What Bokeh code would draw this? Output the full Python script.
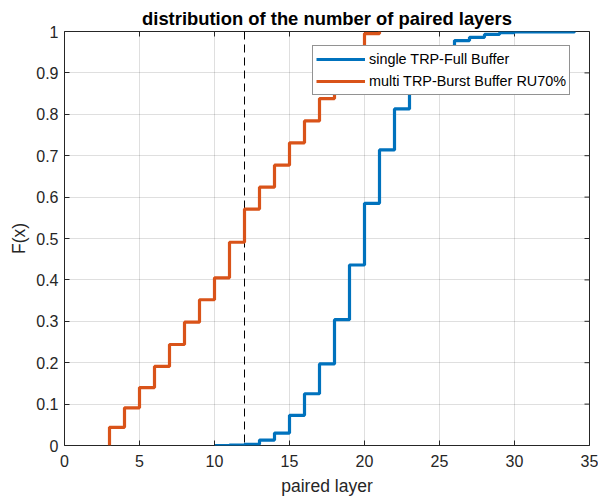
import math
from bokeh.plotting import figure
from bokeh.models import Range1d, FixedTicker, Legend, LegendItem, Span
from bokeh.embed import file_html
from bokeh.resources import INLINE

# ---- data ----
single_x = [10, 11, 12, 13, 14, 15, 16, 17, 18, 19, 20, 21, 22, 23, 24, 25, 26, 27, 28, 29, 30, 34]
single_F = [0, 0.001, 0.003, 0.013, 0.03, 0.073, 0.125, 0.197, 0.304, 0.436, 0.585, 0.714, 0.813,
            0.875, 0.925, 0.955, 0.978, 0.986, 0.993, 0.997, 0.999, 1.0]

multi_x = [3, 3, 4, 5, 6, 7, 8, 9, 10, 11, 12, 13, 14, 15, 16, 17, 18, 19, 20, 21]
multi_F = [0, 0.044, 0.091, 0.140, 0.191, 0.244, 0.298, 0.352, 0.405, 0.491, 0.571, 0.624,
           0.677, 0.731, 0.784, 0.838, 0.89, 0.94, 0.995, 1.0]

threshold_x = 12

series_names = ["single TRP-Full Buffer", "multi TRP-Burst Buffer RU70%"]
x_min, x_max = 0, 35
y_min, y_max = 0, 1
x_ticks = [0, 5, 10, 15, 20, 25, 30, 35]
x_tick_labels = ["0", "5", "10", "15", "20", "25", "30", "35"]
y_ticks = [0, 0.1, 0.2, 0.3, 0.4, 0.5, 0.6, 0.7, 0.8, 0.9, 1]
y_tick_labels = ["0", "0.1", "0.2", "0.3", "0.4", "0.5", "0.6", "0.7", "0.8", "0.9", "1"]

title_text = "distribution of the number of paired layers"
x_label = "paired layer"
y_label = "F(x)"

# ---- styling ----
FONT = "Liberation Sans"
AX = "#262626"
BLUE = "#0072BD"
ORANGE = "#D95319"

p = figure(width=598, height=498, output_backend="svg", toolbar_location=None,
           x_range=Range1d(x_min, x_max), y_range=Range1d(y_min, y_max),
           min_border_left=64, min_border_right=9, min_border_top=31, min_border_bottom=53)

p.background_fill_color = "white"
p.border_fill_color = "white"
p.outline_line_color = AX
p.outline_line_width = 1
p.outline_line_alpha = 1

p.title.text = title_text
p.title.text_font = FONT
p.title.text_font_size = "18.4px"
p.title.text_font_style = "bold"
p.title.text_color = "black"
p.title.align = "center"
p.title.standoff = 5

for ax in (p.xaxis[0], p.yaxis[0]):
    ax.axis_line_color = None
    ax.major_tick_in = 5
    ax.major_tick_out = 0
    ax.major_tick_line_color = AX
    ax.minor_tick_line_color = None
    ax.major_label_text_font = FONT
    ax.major_label_text_font_size = "16px"
    ax.major_label_text_color = AX
    ax.axis_label_text_font = FONT
    ax.axis_label_text_font_size = "17.5px"
    ax.axis_label_text_font_style = "normal"
    ax.axis_label_text_color = AX

p.xaxis.ticker = FixedTicker(ticks=x_ticks)
p.xaxis.major_label_overrides = {t: l for t, l in zip(x_ticks, x_tick_labels)}
p.xaxis.axis_label = x_label
p.xaxis.major_label_standoff = 9
p.xaxis.axis_label_standoff = 6

p.yaxis.ticker = FixedTicker(ticks=y_ticks)
p.yaxis.major_label_overrides = {t: l for t, l in zip(y_ticks, y_tick_labels)}
p.yaxis.axis_label = y_label
p.yaxis.major_label_standoff = 6
p.yaxis.axis_label_standoff = 4

p.xgrid.ticker = FixedTicker(ticks=x_ticks)
p.ygrid.ticker = FixedTicker(ticks=y_ticks)
p.grid.grid_line_color = AX
p.grid.grid_line_alpha = 0.15
p.grid.grid_line_width = 1

# inward tick marks on the top and right borders (clipped to the frame)
p.scatter(x_ticks, [y_max] * len(x_ticks), marker="dash", angle=math.pi / 2, size=10,
          line_color=AX, line_width=1)
p.scatter([x_max] * len(y_ticks), y_ticks, marker="dash", angle=0, size=10,
          line_color=AX, line_width=1)

span = Span(location=threshold_x, dimension="height", line_color="black",
            line_dash="8 5", line_width=1, level="underlay")
p.add_layout(span)

r1 = p.step(single_x, single_F, mode="after", line_color=BLUE, line_width=3.2)
r2 = p.step(multi_x, multi_F, mode="after", line_color=ORANGE, line_width=3.2)

legend = Legend(items=[LegendItem(label=series_names[0], renderers=[r1]),
                       LegendItem(label=series_names[1], renderers=[r2])],
                location=(248, 350))
legend.label_text_font = FONT
legend.label_text_font_size = "14.4px"
legend.label_text_color = "black"
legend.border_line_color = AX
legend.border_line_width = 1
legend.background_fill_color = "white"
legend.background_fill_alpha = 1
legend.padding = 3
legend.spacing = 2
legend.margin = 0
legend.glyph_width = 49
legend.glyph_height = 20
legend.label_height = 20
legend.label_standoff = 4
p.add_layout(legend)

open("out.html", "w").write(file_html(p, INLINE))
